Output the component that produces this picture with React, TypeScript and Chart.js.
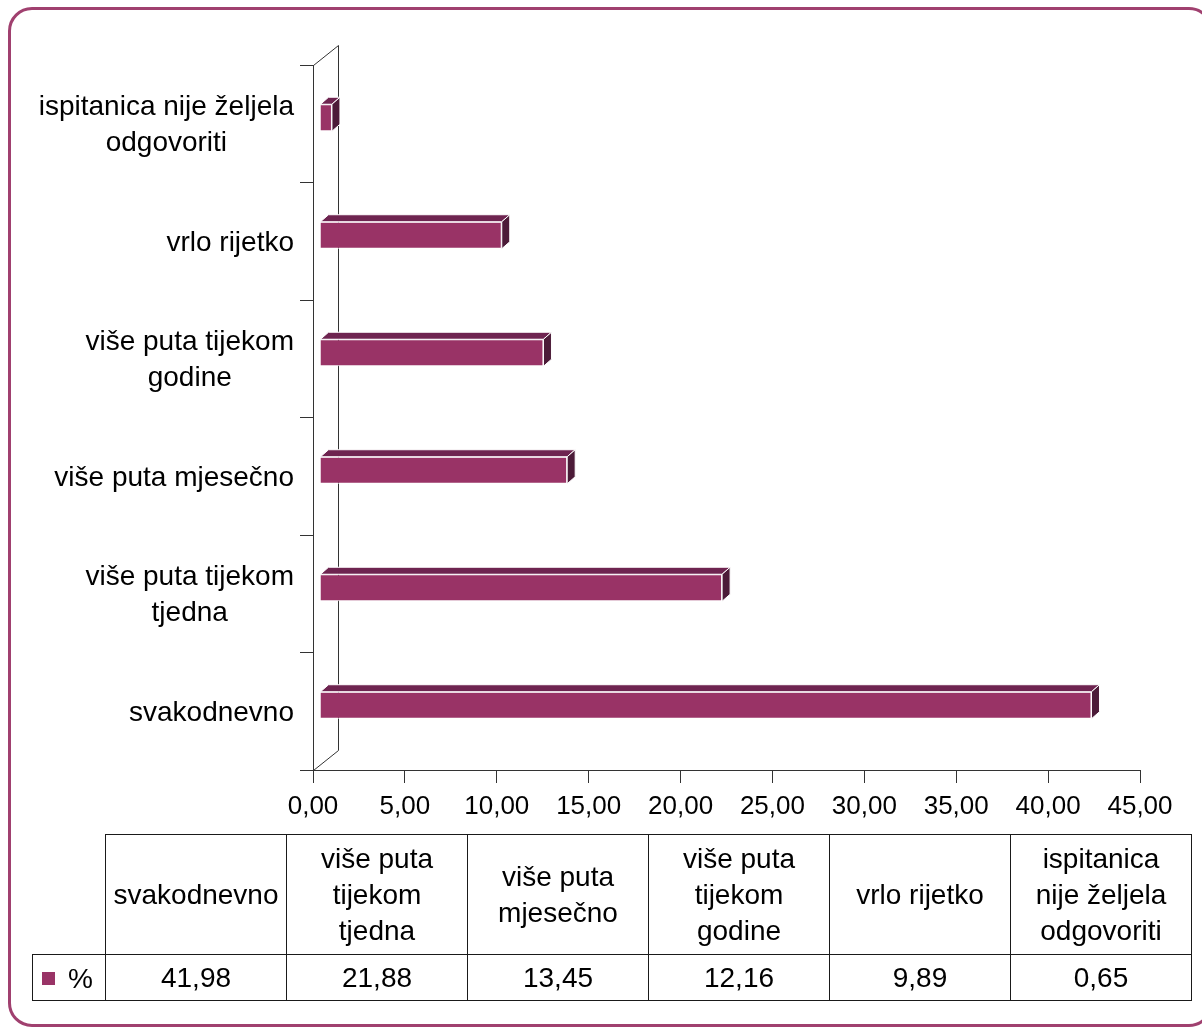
import React, { useEffect, useRef } from "react";
import { Chart, registerables } from "chart.js";

Chart.register(...registerables);

const categories = [
  "svakodnevno",
  "više puta tijekom tjedna",
  "više puta mjesečno",
  "više puta tijekom godine",
  "vrlo rijetko",
  "ispitanica nije željela odgovoriti",
];
const axisLabelLines = [
  ["svakodnevno"],
  ["više puta tijekom", "tjedna"],
  ["više puta mjesečno"],
  ["više puta tijekom", "godine"],
  ["vrlo rijetko"],
  ["ispitanica nije željela", "odgovoriti"],
];
const tableHeaderLines = [
  ["svakodnevno"],
  ["više puta", "tijekom", "tjedna"],
  ["više puta", "mjesečno"],
  ["više puta", "tijekom", "godine"],
  ["vrlo rijetko"],
  ["ispitanica", "nije željela", "odgovoriti"],
];
const seriesName = "%";
const values = [41.98, 21.88, 13.45, 12.16, 9.89, 0.65];
const xMin = 0;
const xMax = 45;
const xStep = 5;

const FONT = '"Liberation Sans", Arial, sans-serif';
const FRONT = "#993366";
const TOP = "#6e2450";
const SIDE = "#4c1b38";

const fmt = (v: number) => v.toFixed(2).replace(".", ",");

const DEPTH_X = 25;
const DEPTH_Y = -20;
const BAR_DX = 7;
const BAR_DY = -6;
const BAR_DEPTH_X = 8;
const BAR_DEPTH_Y = -7;
const LABEL_SIZE = 28;
const LABEL_LINE = 36;
const LABEL_NUDGE = 2;
const TICK_LEN = 13;
const LABEL_GAP = 6;

const depthPlugin = {
  id: "depth3d",
  beforeDatasetsDraw(chart: any) {
    const { ctx, chartArea } = chart;
    const { left, top, bottom } = chartArea;
    const L = Math.round(left) + 0.5;
    const T = Math.round(top) + 0.5;
    const B = Math.round(bottom) + 0.5;
    ctx.save();
    ctx.strokeStyle = "#333333";
    ctx.lineWidth = 1;
    ctx.beginPath();
    ctx.moveTo(L + DEPTH_X, T + DEPTH_Y);
    ctx.lineTo(L + DEPTH_X, B + DEPTH_Y);
    ctx.moveTo(L, T);
    ctx.lineTo(L + DEPTH_X, T + DEPTH_Y);
    ctx.moveTo(L, B);
    ctx.lineTo(L + DEPTH_X, B + DEPTH_Y);
    ctx.moveTo(L - TICK_LEN, B);
    ctx.lineTo(L, B);
    ctx.stroke();
    ctx.restore();
    ctx.save();
    ctx.translate(BAR_DX, BAR_DY);
  },
  afterDatasetsDraw(chart: any) {
    const { ctx } = chart;
    ctx.restore();
    const meta = chart.getDatasetMeta(0);
    ctx.save();
    ctx.strokeStyle = "#ffffff";
    ctx.lineWidth = 1;
    meta.data.forEach((bar: any) => {
      const { x, y, base, height } = bar.getProps(["x", "y", "base", "height"], true);
      const x0 = Math.min(x, base) + BAR_DX;
      const x1 = Math.max(x, base) + BAR_DX;
      const yTop = y - height / 2 + BAR_DY;
      const yBot = y + height / 2 + BAR_DY;
      ctx.beginPath();
      ctx.moveTo(x0, yTop);
      ctx.lineTo(x1, yTop);
      ctx.lineTo(x1 + BAR_DEPTH_X, yTop + BAR_DEPTH_Y);
      ctx.lineTo(x0 + BAR_DEPTH_X, yTop + BAR_DEPTH_Y);
      ctx.closePath();
      ctx.fillStyle = TOP;
      ctx.fill();
      ctx.stroke();
      ctx.beginPath();
      ctx.moveTo(x1, yTop);
      ctx.lineTo(x1 + BAR_DEPTH_X, yTop + BAR_DEPTH_Y);
      ctx.lineTo(x1 + BAR_DEPTH_X, yBot + BAR_DEPTH_Y);
      ctx.lineTo(x1, yBot);
      ctx.closePath();
      ctx.fillStyle = SIDE;
      ctx.fill();
      ctx.stroke();
    });
    ctx.restore();
  },
  afterDraw(chart: any) {
    // category labels: block right-aligned, lines centred within the block
    const { ctx } = chart;
    const yScale = chart.scales.y;
    const right = chart.chartArea.left - TICK_LEN - LABEL_GAP;
    ctx.save();
    ctx.font = `${LABEL_SIZE}px ${FONT}`;
    ctx.fillStyle = "#000000";
    ctx.textAlign = "center";
    ctx.textBaseline = "middle";
    yScale.ticks.forEach((_t: any, i: number) => {
      const lines: string[] = axisLabelLines[i];
      const yc = yScale.getPixelForTick(i) + LABEL_NUDGE;
      const w = Math.max(...lines.map((ln) => ctx.measureText(ln).width));
      const cx = right - w / 2;
      const y0 = yc - ((lines.length - 1) * LABEL_LINE) / 2;
      lines.forEach((ln, j) => ctx.fillText(ln, cx, y0 + j * LABEL_LINE));
    });
    ctx.restore();
  },
};

export default function App() {
  const canvasRef = useRef<HTMLCanvasElement | null>(null);

  useEffect(() => {
    document.body.style.margin = "0";
    const canvas = canvasRef.current;
    if (!canvas) return;
    const chart = new Chart(canvas, {
      type: "bar",
      data: {
        labels: categories,
        datasets: [
          {
            label: seriesName,
            data: values,
            backgroundColor: FRONT,
            borderColor: "#ffffff",
            borderWidth: 1,
            categoryPercentage: 1,
            barPercentage: 0.23,
          },
        ],
      },
      options: {
        indexAxis: "y",
        responsive: false,
        animation: false,
        devicePixelRatio: 1,
        layout: { padding: { top: 65, right: 62, bottom: 209, left: 0 } },
        plugins: {
          legend: { display: false },
          tooltip: { enabled: false },
        },
        scales: {
          x: {
            type: "linear",
            min: xMin,
            max: xMax,
            afterFit: (s: any) => {
              s.height = 50;
            },
            ticks: {
              stepSize: xStep,
              color: "#000000",
              padding: 8,
              font: { family: FONT, size: 26 },
              callback: (v: any) => fmt(Number(v)),
            },
            grid: {
              drawOnChartArea: false,
              drawTicks: true,
              tickLength: TICK_LEN,
              color: "#333333",
            },
            border: { display: true, color: "#333333", width: 1 },
          },
          y: {
            type: "category",
            reverse: true,
            afterFit: (s: any) => {
              s.width = 313;
            },
            ticks: {
              display: false,
            },
            grid: {
              offset: true,
              drawOnChartArea: false,
              drawTicks: true,
              tickLength: TICK_LEN,
              color: "#333333",
            },
            border: { display: true, color: "#333333", width: 1 },
          },
        },
      },
      plugins: [depthPlugin],
    });
    return () => chart.destroy();
  }, []);

  const cell: React.CSSProperties = {
    border: "1px solid #1a1a1a",
    textAlign: "center",
    verticalAlign: "middle",
    padding: 0,
    fontFamily: FONT,
    fontSize: 28,
    lineHeight: "36px",
    color: "#000",
  };

  return (
    <div
      style={{
        position: "fixed",
        left: 0,
        top: 0,
        width: 1202,
        height: 1029,
        background: "#ffffff",
        overflow: "hidden",
      }}
    >
      <div
        style={{
          position: "absolute",
          left: 8,
          top: 7,
          width: 1205,
          height: 1020,
          border: "3px solid #a0406f",
          borderRadius: 24,
          boxSizing: "border-box",
        }}
      />
      <canvas
        ref={canvasRef}
        width={1202}
        height={1029}
        style={{ position: "absolute", left: 0, top: 0, display: "block" }}
      />
      <table
        style={{
          position: "absolute",
          left: 32,
          top: 834,
          borderCollapse: "collapse",
          tableLayout: "fixed",
          width: 1160,
        }}
      >
        <colgroup>
          <col style={{ width: 73 }} />
          {categories.map((c) => (
            <col key={c} style={{ width: 181 }} />
          ))}
        </colgroup>
        <tbody>
          <tr style={{ height: 120 }}>
            <td style={{ ...cell, border: "none" }} />
            {tableHeaderLines.map((lines, i) => (
              <td key={i} style={cell}>
                {lines.map((ln, j) => (
                  <div key={j}>{ln}</div>
                ))}
              </td>
            ))}
          </tr>
          <tr style={{ height: 46 }}>
            <td style={{ ...cell, textAlign: "left" }}>
              <span
                style={{
                  display: "inline-block",
                  width: 13,
                  height: 13,
                  background: FRONT,
                  marginLeft: 9,
                  marginRight: 13,
                  verticalAlign: "middle",
                }}
              />
              <span style={{ verticalAlign: "middle" }}>{seriesName}</span>
            </td>
            {values.map((v, i) => (
              <td key={i} style={cell}>
                {fmt(v)}
              </td>
            ))}
          </tr>
        </tbody>
      </table>
    </div>
  );
}
